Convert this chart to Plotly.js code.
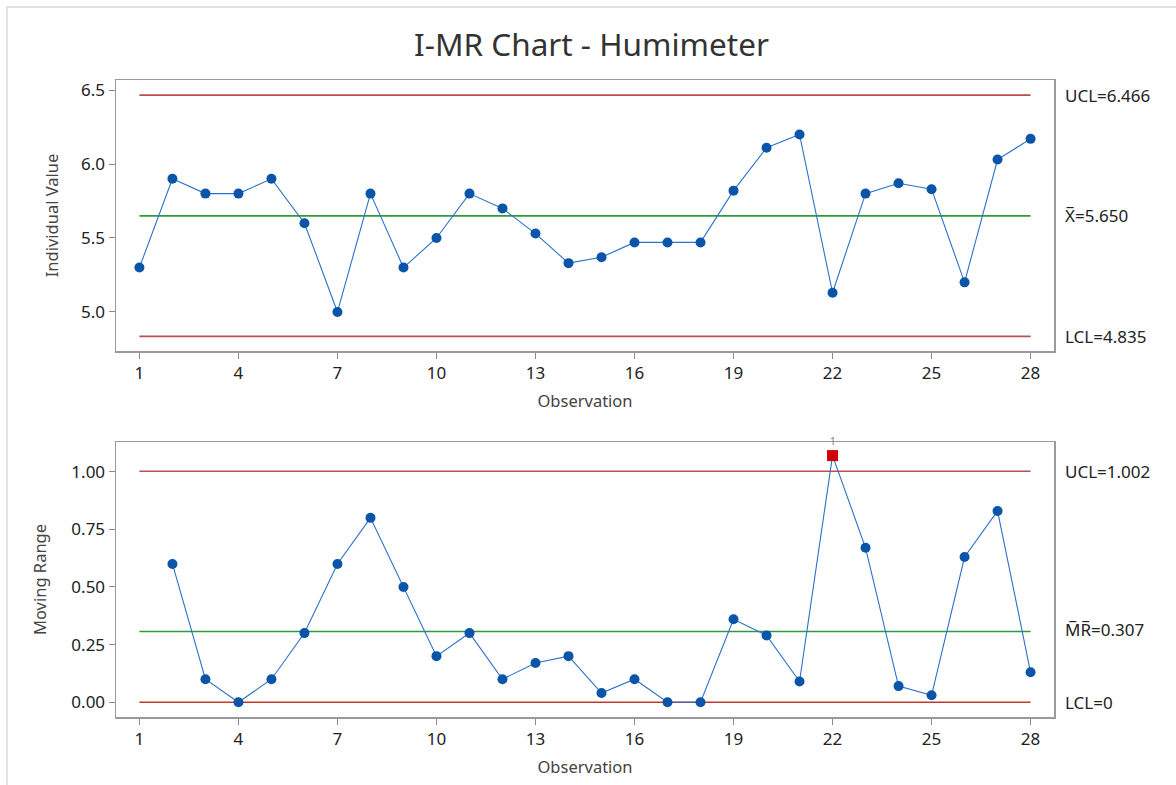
<!DOCTYPE html>
<html>
<head>
<meta charset="utf-8">
<script src="https://cdn.plot.ly/plotly-3.0.1.min.js"></script>
<style>
  html, body { margin: 0; padding: 0; background: #ffffff; }
  #wrap { position: relative; width: 1176px; height: 785px; overflow: hidden; }
  #frame { position: absolute; left: 6px; top: 6px; width: 1200px; height: 800px;
           border-top: 2px solid #e2e2e2; border-left: 2px solid #e2e2e2; }
  #chart { position: absolute; left: 0; top: 0; width: 1176px; height: 785px; }
</style>
</head>
<body>
<div id="wrap">
  <div id="frame"></div>
  <div id="chart"></div>
</div>
<script>
// ---- data ----
const observations = [1,2,3,4,5,6,7,8,9,10,11,12,13,14,15,16,17,18,19,20,21,22,23,24,25,26,27,28];
const individualValues = [5.30,5.90,5.80,5.80,5.90,5.60,5.00,5.80,5.30,5.50,5.80,5.70,5.53,5.33,
                          5.37,5.47,5.47,5.47,5.82,6.11,6.20,5.13,5.80,5.87,5.83,5.20,6.03,6.17];
const mrObservations = [2,3,4,5,6,7,8,9,10,11,12,13,14,15,16,17,18,19,20,21,22,23,24,25,26,27,28];
const movingRanges = [0.60,0.10,0.00,0.10,0.30,0.60,0.80,0.50,0.20,0.30,0.10,0.17,0.20,0.04,
                      0.10,0.00,0.00,0.36,0.29,0.09,1.07,0.67,0.07,0.03,0.63,0.83,0.13];
const iLimits = { ucl: 6.466, center: 5.650, lcl: 4.835 };
const mrLimits = { ucl: 1.002, center: 0.307, lcl: 0 };
const xTickVals = [1,4,7,10,13,16,19,22,25,28];
const iTickVals = [5.0,5.5,6.0,6.5];
const mrTickVals = [0.00,0.25,0.50,0.75,1.00];
const testFailLabel = "1";

// ---- styling ----
const FONT = "Noto Sans, Open Sans, sans-serif";
const LIMIT_RED = "#b9504e";
const CENTER_GREEN = "#2f9a3c";
const LINE_BLUE = "#2a72c8";
const MARK_BLUE = "#0a55a8";
const FAIL_RED = "#d00000";
const TXT = "#222222";
const xFirst = observations[0], xLast = observations[observations.length - 1];

function hline(y, color, yaxis, w) {
  return { x: [xFirst, xLast], y: [y, y], xaxis: yaxis === 'y' ? 'x' : 'x2', yaxis: yaxis,
           mode: 'lines', line: { color: color, width: w || 1.7 }, hoverinfo: 'skip', showlegend: false };
}

const mrColors = movingRanges.map(v => v > mrLimits.ucl ? FAIL_RED : MARK_BLUE);
const mrSymbols = movingRanges.map(v => v > mrLimits.ucl ? 'square' : 'circle');
const mrSizes = movingRanges.map(v => v > mrLimits.ucl ? 11 : 10);

const traces = [
  hline(iLimits.ucl, LIMIT_RED, 'y'),
  hline(iLimits.center, CENTER_GREEN, 'y'),
  hline(iLimits.lcl, LIMIT_RED, 'y'),
  { x: observations, y: individualValues, xaxis: 'x', yaxis: 'y', mode: 'lines+markers',
    line: { color: LINE_BLUE, width: 1.1 },
    marker: { color: MARK_BLUE, size: 10, opacity: 1, line: { width: 0 } }, showlegend: false },
  hline(mrLimits.ucl, LIMIT_RED, 'y2'),
  hline(mrLimits.center, CENTER_GREEN, 'y2'),
  hline(mrLimits.lcl, "#c0392b", 'y2'),
  { x: mrObservations, y: movingRanges, xaxis: 'x2', yaxis: 'y2', mode: 'lines+markers',
    line: { color: LINE_BLUE, width: 1.1 },
    marker: { color: mrColors, symbol: mrSymbols, size: mrSizes, opacity: 1, line: { width: 0 } }, showlegend: false }
];

const W = 1176, H = 785;
const boxL = 116 / W, boxR = 1054 / W;

const axisCommon = {
  showline: true, linecolor: '#9a9a9a', linewidth: 1.5, mirror: true,
  ticks: 'outside', ticklen: 6, tickcolor: '#8a8a8a', tickwidth: 1,
  showgrid: false, zeroline: false,
  tickfont: { family: FONT, size: 17, color: TXT }
};
const axTitleFont = { family: FONT, size: 16.5, color: '#444444' };

function xAxis(anchor) {
  return Object.assign({}, axisCommon, {
    domain: [boxL, boxR], range: [0.29, 28.71], anchor: anchor,
    tickmode: 'array', tickvals: xTickVals, ticktext: xTickVals.map(String),
    title: { text: 'Observation', font: axTitleFont, standoff: 12 }
  });
}

const labelFont = { family: FONT, size: 17, color: TXT };

const layout = {
  width: W, height: H,
  margin: { l: 0, r: 0, t: 0, b: 0 },
  paper_bgcolor: 'rgba(0,0,0,0)', plot_bgcolor: '#ffffff',
  title: { text: 'I-MR Chart - Humimeter', x: 0.503, xanchor: 'center', y: 1 - 45 / H, yanchor: 'middle',
           font: { family: FONT, size: 31.5, color: '#333333' } },
  xaxis: xAxis('y'),
  xaxis2: xAxis('y2'),
  yaxis: Object.assign({}, axisCommon, {
    domain: [1 - 351 / H, 1 - 80 / H], range: [4.736, 6.568], anchor: 'x',
    tickmode: 'array', tickvals: iTickVals, ticktext: iTickVals.map(v => v.toFixed(1)),
    title: { text: 'Individual Value', font: axTitleFont, standoff: 18 }
  }),
  yaxis2: Object.assign({}, axisCommon, {
    domain: [1 - 717 / H, 1 - 442 / H], range: [-0.064, 1.129], anchor: 'x2',
    tickmode: 'array', tickvals: mrTickVals, ticktext: mrTickVals.map(v => v.toFixed(2)),
    title: { text: 'Moving Range', font: axTitleFont, standoff: 20 }
  }),
  annotations: [
    { xref: 'paper', yref: 'y', x: 1063 / W, y: iLimits.ucl, xanchor: 'left', yanchor: 'middle',
      text: 'UCL=' + iLimits.ucl.toFixed(3), showarrow: false, font: labelFont },
    { xref: 'paper', yref: 'y', x: 1063 / W, y: iLimits.center, xanchor: 'left', yanchor: 'middle',
      text: 'X\u0305=' + iLimits.center.toFixed(3), showarrow: false, font: labelFont },
    { xref: 'paper', yref: 'y', x: 1063 / W, y: iLimits.lcl, xanchor: 'left', yanchor: 'middle',
      text: 'LCL=' + iLimits.lcl.toFixed(3), showarrow: false, font: labelFont },
    { xref: 'paper', yref: 'y2', x: 1063 / W, y: mrLimits.ucl, xanchor: 'left', yanchor: 'middle',
      text: 'UCL=' + mrLimits.ucl.toFixed(3), showarrow: false, font: labelFont },
    { xref: 'paper', yref: 'y2', x: 1063 / W, y: mrLimits.center, xanchor: 'left', yanchor: 'middle', yshift: 2,
      text: 'M\u0305R\u0305=' + mrLimits.center.toFixed(3), showarrow: false, font: labelFont },
    { xref: 'paper', yref: 'y2', x: 1063 / W, y: mrLimits.lcl, xanchor: 'left', yanchor: 'middle',
      text: 'LCL=' + String(mrLimits.lcl), showarrow: false, font: labelFont }
  ]
};

// test-failure label(s) above out-of-control MR points
mrObservations.forEach((o, i) => {
  if (movingRanges[i] > mrLimits.ucl) {
    layout.annotations.push({ xref: 'x2', yref: 'y2', x: o, y: movingRanges[i], yshift: 15,
      text: testFailLabel, showarrow: false, font: { family: FONT, size: 10, color: '#7a7a7a' } });
  }
});

Plotly.newPlot('chart', traces, layout, { displayModeBar: false, staticPlot: true });
</script>
</body>
</html>
